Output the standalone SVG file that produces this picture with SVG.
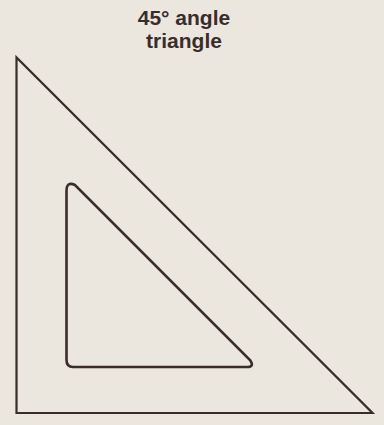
<svg xmlns="http://www.w3.org/2000/svg" width="384" height="425" viewBox="0 0 384 425">
<style>
.bg{fill:#ebe7df}
.lbl{font-family:"Liberation Sans",Arial,sans-serif;font-weight:bold;font-size:21px;fill:#3b2c2c;text-anchor:middle}
.edge{fill:none;stroke:#3b2c2c}
</style>
<rect class="bg" x="0" y="0" width="384" height="425"/>
<g id="label">
<text class="lbl" x="184" y="25">45° angle</text>
<text class="lbl" x="184" y="48">triangle</text>
</g>
<g id="outer-triangle">
<path class="edge" stroke-width="2.2" stroke-linejoin="miter" d="M16.5,57.5 L16.5,413 L372.5,413 Z"/>
</g>
<g id="inner-cutout">
<path class="edge" stroke-width="2.6" d="M66.5,191 Q66.5,181 75,185 L250,360 Q255,367 247,367 L73,367 Q66.5,367 66.5,360 Z"/>
</g>
</svg>
